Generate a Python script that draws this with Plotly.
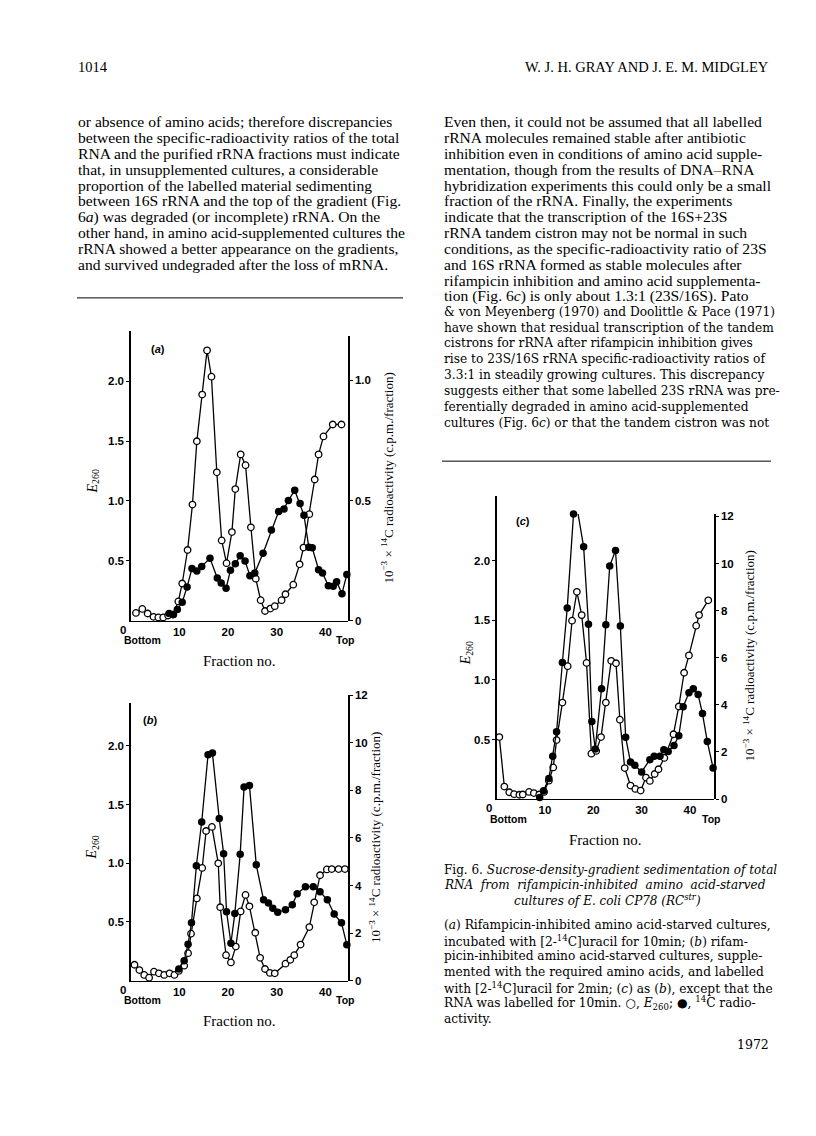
import plotly.graph_objects as go

W, H = 816, 1136

# ---- data ----
# (a) starved, 10 min label
frac_a_e260 = [1.1, 2.4, 3.5, 4.7, 5.7, 6.7, 7.7, 8.7, 9.8, 10.6, 11.7, 12.7, 13.6, 14.7, 15.7, 16.6,
               17.7, 18.7, 19.7, 20.8, 21.5, 22.6, 23.6, 24.7, 25.7, 26.7, 27.6, 28.7, 29.6, 31.0,
               31.8, 33.4, 34.7, 35.5, 36.7, 37.8, 38.6, 39.6, 41.5, 43.3]
e260_a = [0.064, 0.097, 0.059, 0.031, 0.026, 0.026, 0.042, 0.05, 0.16, 0.31, 0.59, 0.97, 1.50, 1.89,
          2.26, 2.04, 1.24, 0.67, 0.48, 0.74, 1.10, 1.39, 1.30, 0.78, 0.35, 0.17, 0.08, 0.10, 0.12,
          0.17, 0.22, 0.30, 0.47, 0.61, 0.89, 1.18, 1.39, 1.54, 1.64, 1.64]
frac_a_c14 = [7.9, 8.8, 9.6, 10.6, 11.6, 12.6, 13.6, 14.6, 16.3, 17.8, 18.6, 19.6, 20.5, 21.5, 22.5,
              23.5, 24.5, 25.5, 27.2, 28.9, 30.4, 31.5, 32.4, 33.7, 34.8, 35.6, 36.6, 37.3, 38.6,
              39.4, 40.6, 41.6, 42.3, 43.4, 44.4]
c14_a = [0.029, 0.025, 0.046, 0.076, 0.14, 0.217, 0.206, 0.225, 0.259, 0.177, 0.156, 0.134, 0.209,
         0.236, 0.27, 0.248, 0.187, 0.198, 0.28, 0.377, 0.454, 0.465, 0.50, 0.543, 0.487, 0.438,
         0.305, 0.303, 0.212, 0.198, 0.145, 0.143, 0.162, 0.112, 0.192]

# (b) supplemented, 2 min label
frac_b_e260 = [0.8, 1.8, 2.8, 3.8, 4.8, 5.8, 6.9, 8.0, 9.0, 9.9, 11.0, 11.8, 12.4, 13.6, 14.7, 15.5,
               16.7, 18.0, 18.4, 19.6, 20.6, 21.6, 22.6, 23.6, 24.4, 25.6, 26.6, 27.6, 28.6, 29.6,
               31.8, 32.8, 33.6, 34.9, 36.7, 37.7, 38.9, 40.3, 41.3, 42.7, 44.0]
e260_b = [0.135, 0.09, 0.048, 0.025, 0.076, 0.062, 0.048, 0.062, 0.048, 0.082, 0.127, 0.234, 0.40,
          0.70, 0.96, 1.275, 1.31, 1.00, 0.625, 0.217, 0.155, 0.29, 0.59, 0.73, 0.633, 0.408, 0.194,
          0.099, 0.065, 0.062, 0.144, 0.177, 0.217, 0.307, 0.456, 0.667, 0.898, 0.948, 0.951,
          0.951, 0.951]
frac_b_c14 = [9.9, 11.0, 11.8, 12.5, 13.5, 14.6, 15.9, 16.8, 18.2, 19.1, 19.7, 20.6, 21.4, 22.5, 23.3,
              24.4, 25.8, 27.3, 28.3, 29.2, 30.2, 31.8, 33.2, 34.2, 35.9, 37.5, 38.9, 40.4, 41.8,
              43.3, 44.4]
c14_b = [0.49, 0.83, 1.53, 2.43, 4.83, 6.67, 9.5, 9.57, 6.82, 5.34, 2.90, 1.57, 2.82, 5.31, 8.14,
         8.21, 4.87, 3.40, 3.26, 3.04, 2.88, 2.98, 3.19, 3.65, 3.95, 3.95, 3.74, 3.40, 2.80, 2.43, 1.51]

# (c) supplemented, 10 min label
frac_c_e260 = [0.54, 1.58, 2.6, 3.6, 4.7, 5.4, 6.7, 7.7, 8.8, 9.8, 10.8, 11.7, 12.4, 13.6, 14.7,
               15.6, 16.6, 17.6, 18.6, 19.6, 20.6, 21.6, 22.6, 23.7, 24.7, 25.5, 26.5, 27.7, 28.7,
               29.8, 30.9, 31.7, 32.7, 33.5, 34.7, 36.6, 37.7, 38.8, 39.8, 41.3, 41.9, 43.8]
e260_c = [0.52, 0.105, 0.057, 0.041, 0.036, 0.038, 0.06, 0.05, 0.038, 0.06, 0.154, 0.265, 0.495,
          0.81, 1.115, 1.497, 1.74, 1.544, 1.143, 0.381, 0.404, 0.52, 0.81, 1.16, 1.14, 0.666, 0.26,
          0.113, 0.085, 0.071, 0.18, 0.152, 0.21, 0.25, 0.345, 0.544, 0.777, 1.06, 1.206, 1.455,
          1.544, 1.668]
frac_c_c14 = [8.9, 9.7, 10.8, 11.6, 12.4, 13.6, 14.6, 15.9, 16.7, 18.0, 19.0, 19.7, 20.4, 21.7, 22.6,
              23.4, 24.6, 25.6, 26.7, 27.7, 28.6, 30.0, 31.7, 32.6, 33.8, 34.6, 35.5, 36.7, 37.7,
              38.6, 39.8, 40.7, 41.7, 42.6, 43.6, 44.8]
c14_c = [0.06, 0.35, 0.87, 1.82, 2.86, 5.80, 8.11, 12.1, 12.29, 10.71, 7.42, 3.29, 2.13, 4.68, 7.4,
         9.9, 10.55, 7.35, 2.62, 1.57, 1.43, 1.15, 1.67, 1.82, 1.82, 2.09, 2.02, 2.27, 2.69, 3.92,
         4.51, 4.68, 4.44, 3.63, 2.44, 1.32]

e260_ticks = [0.5, 1.0, 1.5, 2.0]
c14_ticks_a = [0, 0.5, 1.0]
c14_ticks_bc = [0, 2, 4, 6, 8, 10, 12]
frac_ticks = [10, 20, 30, 40]

left_text = [
    "or absence of amino acids; therefore discrepancies",
    "between the specific-radioactivity ratios of the total",
    "RNA and the purified rRNA fractions must indicate",
    "that, in unsupplemented cultures, a considerable",
    "proportion of the labelled material sedimenting",
    "between 16S rRNA and the top of the gradient (Fig.",
    "6<i>a</i>) was degraded (or incomplete) rRNA. On the",
    "other hand, in amino acid-supplemented cultures the",
    "rRNA showed a better appearance on the gradients,",
    "and survived undegraded after the loss of mRNA.",
]
right_text = [
    "Even then, it could not be assumed that all labelled",
    "rRNA molecules remained stable after antibiotic",
    "inhibition even in conditions of amino acid supple-",
    "mentation, though from the results of DNA–RNA",
    "hybridization experiments this could only be a small",
    "fraction of the rRNA. Finally, the experiments",
    "indicate that the transcription of the 16S+23S",
    "rRNA tandem cistron may not be normal in such",
    "conditions, as the specific-radioactivity ratio of 23S",
    "and 16S rRNA formed as stable molecules after",
    "rifampicin inhibition and amino acid supplementa-",
    "tion (Fig. 6<i>c</i>) is only about 1.3:1 (23S/16S). Pato",
    "& von Meyenberg (1970) and Doolittle & Pace (1971)",
    "have shown that residual transcription of the tandem",
    "cistrons for rRNA after rifampicin inhibition gives",
    "rise to 23S/16S rRNA specific-radioactivity ratios of",
    "3.3:1 in steadily growing cultures. This discrepancy",
    "suggests either that some labelled 23S rRNA was pre-",
    "ferentially degraded in amino acid-supplemented",
    "cultures (Fig. 6<i>c</i>) or that the tandem cistron was not",
]
caption_text = [
    "(<i>a</i>) Rifampicin-inhibited amino acid-starved cultures,",
    "incubated with [2-<sup>14</sup>C]uracil for 10min; (<i>b</i>) rifam-",
    "picin-inhibited amino acid-starved cultures, supple-",
    "mented with the required amino acids, and labelled",
    "with [2-<sup>14</sup>C]uracil for 2min; (<i>c</i>) as (<i>b</i>), except that the",
    "RNA was labelled for 10min. ○, <i>E</i><sub>260</sub>; ●, <sup>14</sup>C radio-",
    "activity.",
]

SERIF = "Liberation Serif, Times New Roman, serif"
WIDE_SERIF = "DejaVu Serif, serif"
SANS = "Liberation Sans, Arial, sans-serif"


def px(x):
    return x / W


def py(y):
    return 1 - y / H


def note(x, y, text, size, family=SERIF, xanchor="center", **kw):
    return dict(x=px(x), y=py(y), xref="paper", yref="paper", text=text, showarrow=False,
                xanchor=xanchor, yanchor="middle", font=dict(family=family, size=size,
                                                              color="black", **kw.pop("fk", {})),
                **kw)


fig = go.Figure()

# panel geometry in page pixels
panels = [
    dict(x="x", yl="y", yr="y2", xl=130.6, xr=348.3, b=621.1, tl=328, tr=334, xmax=44.7,
         emax=2.426, cmax=1.183, ct=c14_ticks_a, ctt=["0", "0.5", "1.0"],
         data=(frac_a_e260, e260_a, frac_a_c14, c14_a), tag="(<i>a</i>)", tagxy=(158, 347),
         rt_x=387, e_x=93),
    dict(x="x2", yl="y3", yr="y4", xl=130.6, xr=348.3, b=985, tl=704, tr=696.7, xmax=44.7,
         emax=2.37, cmax=12.0, ct=c14_ticks_bc, ctt=[str(v) for v in c14_ticks_bc],
         data=(frac_b_e260, e260_b, frac_b_c14, c14_b), tag="(<i>b</i>)", tagxy=(150, 722),
         rt_x=375, e_x=93),
    dict(x="x3", yl="y5", yr="y6", xl=496.7, xr=714.3, b=801.5, tl=495, tr=513.3, xmax=45.05,
         emax=2.546, cmax=12.11, ct=c14_ticks_bc, ctt=[str(v) for v in c14_ticks_bc],
         data=(frac_c_e260, e260_c, frac_c_c14, c14_c), tag="(<i>c</i>)", tagxy=(523, 520),
         rt_x=749, e_x=466),
]

annotations = []
layout_axes = {}
tickfont = dict(family=SANS, size=11.5, color="black", weight="bold")

for p in panels:
    fo, eo, fc, cc = p["data"]
    # 14C radioactivity, filled circles
    fig.add_trace(go.Scatter(x=fc, y=cc, xaxis=p["x"], yaxis=p["yr"], mode="lines+markers",
                             line=dict(color="black", width=1.3),
                             marker=dict(symbol="circle", size=7.5, color="black"),
                             cliponaxis=False, hoverinfo="skip"))
    # E260, open circles
    fig.add_trace(go.Scatter(x=fo, y=eo, xaxis=p["x"], yaxis=p["yl"], mode="lines+markers",
                             line=dict(color="black", width=1.3),
                             marker=dict(symbol="circle", size=6.5, color="white",
                                         line=dict(color="black", width=1.3)),
                             cliponaxis=False, hoverinfo="skip"))

    xkey = "xaxis" if p["x"] == "x" else "xaxis" + p["x"][1:]
    ylkey = "yaxis" if p["yl"] == "y" else "yaxis" + p["yl"][1:]
    yrkey = "yaxis" + p["yr"][1:]
    layout_axes[xkey] = dict(domain=[px(p["xl"]), px(p["xr"])], range=[0, p["xmax"]],
                             anchor=p["yl"], showline=True, linecolor="black", linewidth=1.3,
                             tickvals=frac_ticks, ticks="", showgrid=False, zeroline=False,
                             tickfont=tickfont, fixedrange=True)
    layout_axes[ylkey] = dict(domain=[py(p["b"]), py(p["tl"])], range=[0, p["emax"]],
                              anchor=p["x"], side="left", showline=True, linecolor="black",
                              linewidth=1.3, tickvals=e260_ticks,
                              ticktext=["%.1f" % v for v in e260_ticks], ticks="outside",
                              ticklen=3, tickcolor="black", showgrid=False, zeroline=False,
                              tickfont=tickfont, fixedrange=True)
    layout_axes[yrkey] = dict(domain=[py(p["b"]), py(p["tr"])], range=[0, p["cmax"]],
                              anchor=p["x"], side="right", showline=True, linecolor="black",
                              linewidth=1.3, tickvals=p["ct"], ticktext=p["ctt"],
                              ticks="outside", ticklen=3, tickcolor="black", showgrid=False,
                              zeroline=False, tickfont=tickfont, fixedrange=True)

    annotations.append(dict(x=0, y=0, xref=p["x"], yref=p["yl"], text="0", showarrow=False,
                            xanchor="center", yanchor="middle", xshift=-8, yshift=-9,
                            font=dict(family=SANS, size=11.5, weight="bold", color="black")))
    annotations.append(note(p["xl"] + 12, p["b"] + 20, "Bottom", 10.5, SANS,
                            fk=dict(weight="bold")))
    annotations.append(note(p["xr"] - 3, p["b"] + 20, "Top", 10.5, SANS, fk=dict(weight="bold")))
    annotations.append(note((p["xl"] + p["xr"]) / 2, p["b"] + 41, "Fraction no.", 15))
    annotations.append(note(p["tagxy"][0], p["tagxy"][1], p["tag"], 11, SANS,
                            fk=dict(weight="bold")))
    annotations.append(note(p["e_x"], (p["b"] + p["tl"]) / 2 + 6, "<i>E</i><sub>260</sub>", 14,
                            textangle=-90))
    annotations.append(note(p["rt_x"], (p["b"] + p["tr"]) / 2,
                            "10<sup>−3</sup> × <sup>14</sup>C radioactivity (c.p.m./fraction)", 13,
                            textangle=-90))

# page text
annotations.append(note(76, 62, "1014", 14.5, xanchor="left"))
annotations.append(note(771, 62, "W. J. H. GRAY AND J. E. M. MIDGLEY", 14.5, xanchor="right"))
for i, t in enumerate(left_text):
    annotations.append(note(76, 117 + 16 * i, t, 15.6, xanchor="left"))
for i, t in enumerate(right_text):
    if i < 12:
        annotations.append(note(442, 117 + 16 * i, t, 15.6, xanchor="left"))
    else:
        annotations.append(note(442, 117 + 16 * i, t, 12.2, WIDE_SERIF, xanchor="left"))

annotations.append(note(442, 873, "Fig. 6. <i>Sucrose-density-gradient sedimentation of total</i>",
                        12.0, WIDE_SERIF, xanchor="left"))
annotations.append(note(442, 888.5, "<i>RNA  from  rifampicin-inhibited  amino  acid-starved</i>",
                        12.0, WIDE_SERIF, xanchor="left"))
annotations.append(note(607, 904, "<i>cultures of E. coli CP78 (RC<sup>str</sup>)</i>", 12.0,
                        WIDE_SERIF))
for i, t in enumerate(caption_text):
    annotations.append(note(442, 929 + 15.8 * i, t, 12.2, WIDE_SERIF, xanchor="left"))
annotations.append(note(771, 1050, "1972", 12.5, WIDE_SERIF, xanchor="right"))

shapes = [
    dict(type="line", xref="paper", yref="paper", x0=px(77), x1=px(403), y0=py(295), y1=py(295),
         line=dict(color="black", width=1)),
    dict(type="line", xref="paper", yref="paper", x0=px(442), x1=px(771), y0=py(460), y1=py(460),
         line=dict(color="black", width=1)),
]

fig.update_layout(width=W, height=H, autosize=False, margin=dict(l=0, r=0, t=0, b=0),
                  paper_bgcolor="white", plot_bgcolor="rgba(0,0,0,0)", showlegend=False,
                  font=dict(family=SERIF, color="black"),
                  annotations=annotations, shapes=shapes, **layout_axes)

fig.write_html("out.html", config={"displayModeBar": False, "staticPlot": True},
               post_script="document.body.style.margin='0';")
